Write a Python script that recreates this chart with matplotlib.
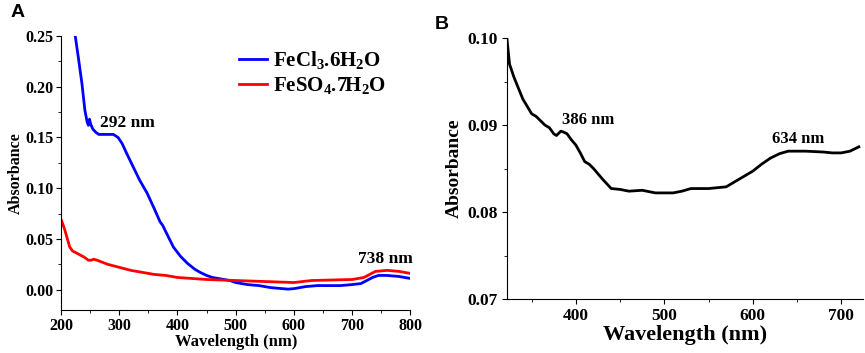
import numpy as np
import matplotlib
matplotlib.use("Agg")
import matplotlib.pyplot as plt
from matplotlib.ticker import MultipleLocator

plt.rcParams['font.family'] = 'Liberation Serif'
plt.rcParams['font.weight'] = 'bold'
plt.rcParams['axes.labelweight'] = 'bold'
plt.rcParams['mathtext.fontset'] = 'custom'
plt.rcParams['mathtext.rm'] = 'Liberation Serif:bold'
plt.rcParams['mathtext.bf'] = 'Liberation Serif:bold'
plt.rcParams['mathtext.default'] = 'bf'

# panel A: FeCl3.6H2O
fecl3_wl = [224, 230, 236, 241, 245, 247, 249, 251, 255, 260, 265, 270, 284, 290,
            298, 305, 313, 324, 335, 348, 360, 370, 375, 380, 393, 405, 417, 430,
            439, 450, 460, 470, 480, 490, 500, 520, 540, 560, 580, 590, 600, 620, 640, 660,
            680, 700, 715, 725, 735, 745, 760, 780, 790, 800]
fecl3_abs = [0.252, 0.228, 0.203, 0.177, 0.165, 0.162, 0.168, 0.163, 0.158, 0.155,
             0.153, 0.153, 0.153, 0.153, 0.150, 0.144, 0.134, 0.121, 0.108, 0.095, 0.080,
             0.067, 0.063, 0.057, 0.042, 0.033, 0.026, 0.020, 0.017, 0.014, 0.012, 0.011,
             0.010, 0.009, 0.007, 0.005, 0.004, 0.002, 0.001, 0.0005, 0.001, 0.003, 0.004, 0.004,
             0.004, 0.005, 0.006, 0.009, 0.012, 0.014, 0.014, 0.013, 0.012, 0.011]

# panel A: FeSO4.7H2O
feso4_wl = [201, 206, 210, 215, 220, 227, 240, 247, 252, 256, 262, 280, 300, 320, 340, 360,
            380, 400, 450, 500, 550, 600, 630, 700, 720, 730, 740, 760, 780, 800]
feso4_abs = [0.068, 0.060, 0.052, 0.042, 0.038, 0.036, 0.032, 0.029, 0.029, 0.030, 0.029, 0.025,
             0.022, 0.019, 0.017, 0.015, 0.014, 0.012, 0.010, 0.009, 0.008, 0.007, 0.009, 0.010,
             0.012, 0.015, 0.018, 0.019, 0.018, 0.016]

# panel B
b_wl = [322, 325, 330, 340, 350, 355, 360, 365, 370, 375, 378, 383, 386, 390, 395, 400, 405,
        410, 415, 420, 430, 440, 450, 460, 475, 490, 510, 520, 530, 550, 570, 580, 590, 600,
        610, 620, 630, 640, 660, 680, 690, 700, 710, 720]
b_abs = [0.100, 0.097, 0.0955, 0.093, 0.0913, 0.0910, 0.0905, 0.0900, 0.0897, 0.0890, 0.0888,
         0.0893, 0.0892, 0.0890, 0.0883, 0.0877, 0.0868, 0.0858, 0.0855, 0.0850, 0.0838, 0.0827,
         0.0826, 0.0824, 0.0825, 0.0822, 0.0822, 0.0824, 0.0827, 0.0827, 0.0829, 0.0835, 0.0841,
         0.0847, 0.0855, 0.0862, 0.0867, 0.0870, 0.0870, 0.0869, 0.0868, 0.0868, 0.0870, 0.0875]

fig = plt.figure(figsize=(8.65, 3.53), dpi=100)
axA = fig.add_axes([0.0705, 0.122, 0.404, 0.776])
axB = fig.add_axes([0.586, 0.153, 0.412, 0.739])

for ax in (axA, axB):
    ax.spines['top'].set_visible(False)
    ax.spines['right'].set_visible(False)
    ax.tick_params(direction='out', which='both')
    ax.tick_params(which='major', length=3.5)
    ax.tick_params(which='minor', length=2)

# A
axA.plot(fecl3_wl, fecl3_abs, color='#0000ff', lw=2, label='FeCl$_3$.6H$_2$O')
axA.plot(feso4_wl, feso4_abs, color='#ff0000', lw=2, label='FeSO$_4$.7H$_2$O')
axA.set_xlim(200, 800)
axA.set_ylim(-0.02, 0.25)
axA.xaxis.set_major_locator(MultipleLocator(100))
axA.xaxis.set_minor_locator(MultipleLocator(50))
axA.yaxis.set_major_locator(MultipleLocator(0.05))
axA.yaxis.set_minor_locator(MultipleLocator(0.025))
axA.set_yticks([0, 0.05, 0.10, 0.15, 0.20, 0.25])
axA.set_yticklabels(['0.00', '0.05', '0.10', '0.15', '0.20', '0.25'])
axA.tick_params(labelsize=11.5, pad=2)
axA.set_xlabel('Wavelength (nm)', fontsize=12, labelpad=0)
axA.set_ylabel('Absorbance', fontsize=11.5, labelpad=1)
axA.legend(loc='upper right', bbox_to_anchor=(0.985, 1.02), frameon=False, fontsize=15,
           handlelength=1.35, handletextpad=0.3, labelspacing=0.2)
axA.text(267, 0.164, '292 nm', fontsize=12.5, ha='left', va='center')
axA.text(757, 0.030, '738 nm', fontsize=12.5, ha='center', va='center')
fig.text(0.012, 0.965, 'A', fontsize=14, fontweight='bold', family='Liberation Sans', va='center')

# B
axB.plot(b_wl, b_abs, color='black', lw=2)
axB.set_xlim(322, 725)
axB.set_ylim(0.07, 0.10)
axB.xaxis.set_major_locator(MultipleLocator(100))
axB.xaxis.set_minor_locator(MultipleLocator(50))
axB.yaxis.set_major_locator(MultipleLocator(0.01))
axB.yaxis.set_minor_locator(MultipleLocator(0.005))
axB.set_yticks([0.07, 0.08, 0.09, 0.10])
axB.set_yticklabels(['0.07', '0.08', '0.09', '0.10'])
axB.tick_params(labelsize=12.5, pad=3)
axB.set_xlabel('Wavelength (nm)', fontsize=16, labelpad=1)
axB.set_ylabel('Absorbance', fontsize=14, labelpad=3)
axB.text(414, 0.0906, '386 nm', fontsize=12, ha='center', va='center')
axB.text(651, 0.0884, '634 nm', fontsize=12, ha='center', va='center')
fig.text(0.503, 0.93, 'B', fontsize=14, fontweight='bold', family='Liberation Sans', va='center')

fig.savefig('out.png', dpi=100)
